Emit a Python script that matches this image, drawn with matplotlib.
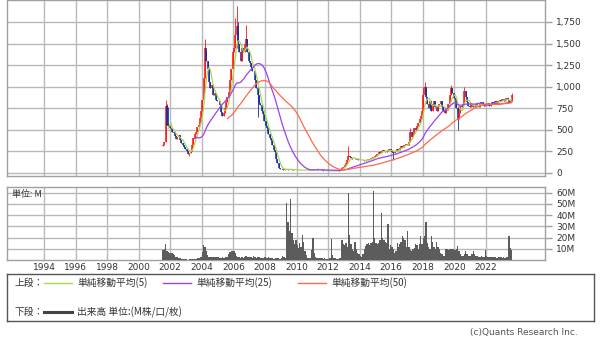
import numpy as np
import pandas as pd
import matplotlib
matplotlib.use("Agg")
import matplotlib.pyplot as plt
from matplotlib.ticker import FuncFormatter

# monthly candles, 2001-07 .. 2023-08
months = pd.period_range("2001-07", "2023-08", freq="M")

close = [
    # 2001 (Jul-Dec)
    330, 360, 780, 560, 540, 520,
    # 2002
    520, 480, 460, 430, 390, 420, 440, 380, 350, 330, 300, 280,
    # 2003
    250, 220, 230, 260, 330, 400, 450, 480, 530, 560, 640, 720,
    # 2004
    850, 1100, 1450, 1300, 1200, 1050, 980, 1020, 900, 930, 850, 830,
    # 2005
    840, 790, 710, 660, 700, 750, 820, 880, 940, 1080, 1200, 1400,
    # 2006
    1450, 1600, 1700, 1500, 1400, 1300, 1450, 1400, 1500, 1550, 1400, 1300,
    # 2007
    1280, 1230, 1180, 1180, 1080, 980, 900, 810, 790, 720, 680, 600,
    # 2008
    540, 520, 450, 400, 380, 330, 270, 240, 160, 110, 60, 50,
    # 2009
    45, 40, 35, 50, 45, 40, 38, 40, 42, 38, 35, 35,
    # 2010
    35, 33, 30, 32, 35, 38, 35, 32, 30, 30, 32, 35,
    # 2011
    40, 45, 50, 40, 38, 35, 33, 30, 28, 28, 27, 26,
    # 2012
    25, 27, 28, 26, 24, 22, 22, 25, 30, 45, 60, 75,
    # 2013
    90, 110, 150, 200, 180, 170, 165, 160, 170, 165, 155, 150,
    # 2014
    150, 145, 150, 140, 150, 155, 160, 165, 170, 175, 180, 200,
    # 2015
    210, 220, 240, 230, 250, 270, 260, 240, 250, 270, 280, 260,
    # 2016
    240, 230, 250, 260, 280, 270, 290, 310, 300, 320, 330, 340,
    # 2017
    330, 360, 470, 420, 450, 520, 500, 540, 580, 620, 660, 720,
    # 2018
    900, 1000, 880, 800, 750, 830, 720, 800, 830, 760, 720, 780,
    # 2019
    800, 830, 760, 720, 700, 750, 730, 800, 900, 980, 930, 870,
    # 2020
    860, 750, 620, 700, 780, 760, 800, 950, 880, 820, 780, 760,
    # 2021
    800, 790, 760, 780, 800, 790, 770, 800, 820, 790, 780, 800,
    # 2022
    790, 810, 780, 800, 820, 800, 830, 810, 800, 830, 850, 840,
    # 2023 (Jan-Aug)
    860, 830, 850, 870, 850, 820, 840, 900,
]

# wicks that stick out of the bodies
wick_high = {"2001-09": 846, "2001-10": 800, "2001-11": 770, "2004-03": 1551,
             "2004-04": 1420, "2006-02": 1800, "2006-03": 1935, "2006-04": 1750,
             "2006-10": 1720, "2013-04": 313, "2017-03": 520, "2018-01": 1000,
             "2018-02": 1060, "2019-10": 1020, "2020-03": 800, "2020-08": 1000,
             "2023-08": 930}
wick_low = {"2003-03": 200, "2006-03": 1450, "2007-07": 650, "2016-02": 150,
            "2020-03": 500}

volume = [
    # 2001 (Jul-Dec)
    9, 10, 14, 8, 7, 6.5,
    # 2002
    6.5, 6, 5, 4.5, 3, 2.5, 2, 1.5, 1, 0.8, 0.5, 0.5,
    # 2003
    0.5, 0.4, 0.5, 0.5, 0.6, 0.8, 1, 1.2, 1.5, 2, 1.8, 2.5,
    # 2004
    7.5, 13, 12, 8, 4.5, 3, 2.5, 3, 2.5, 3, 2.5, 2.5,
    # 2005
    2.5, 2, 2, 2.5, 2, 2, 2.5, 3, 5, 7.5, 8, 8,
    # 2006
    8, 6, 4, 3, 2.5, 2, 2.5, 2, 3, 4, 3, 2.5,
    # 2007
    3, 2.5, 2, 3.5, 2.5, 2, 3, 2.5, 2, 1.5, 2, 3,
    # 2008
    2.5, 2, 3, 2, 1.5, 1.5, 1, 1, 1.5, 2, 1.5, 1,
    # 2009
    2, 4, 3, 2, 51, 34, 26, 54, 24, 18, 14, 18,
    # 2010
    13, 11, 15, 12, 22, 16, 8, 4.5, 2, 1.5, 1.5, 9,
    # 2011
    20, 6, 3, 2, 2, 1.5, 1.5, 2, 1, 1.5, 1, 1,
    # 2012
    1, 2, 18.5, 4.5, 2, 1.5, 1, 1, 1.5, 2, 18, 14,
    # 2013
    13, 15, 12, 60, 22, 14, 10, 8, 16, 10, 6, 5,
    # 2014
    4, 3, 5, 10, 12.5, 14, 15, 13, 15, 16, 61, 20,
    # 2015
    15, 14, 15, 18, 42, 20, 18, 16, 15, 32, 10, 13,
    # 2016
    12, 10, 6, 8, 15, 12, 14, 16, 21.7, 20, 18, 12,
    # 2017
    26, 12, 9, 8, 10, 11, 14, 13, 10, 14, 21, 14,
    # 2018
    20, 21, 34, 15, 12, 10, 21.7, 16, 12, 10, 15.6, 12,
    # 2019
    10, 6.4, 5, 4, 4, 9.5, 9.5, 9, 9.5, 9.5, 10, 9.5,
    # 2020
    9, 10, 12.5, 8, 5, 4, 4, 5, 7.6, 5, 4, 3.5,
    # 2021
    4, 5, 7.6, 5, 4, 3.5, 3, 3, 4, 3, 3, 8.5,
    # 2022
    4, 3, 3, 2.5, 3, 2.5, 3, 2.5, 2, 2.5, 3, 2.5,
    # 2023 (Jan-Aug)
    2, 2.5, 2, 2.5, 3, 21, 11, 9,
]

price_ticks = [0, 250, 500, 750, 1000, 1250, 1500, 1750]
vol_ticks = [10, 20, 30, 40, 50, 60]
year_ticks = list(range(1994, 2023, 2))

# ---------------------------------------------------------------
x = np.array([p.year + (p.month - 0.5) / 12 for p in months])
c = np.array(close, dtype=float)
o = np.concatenate([[310.0], c[:-1]])
keys = [str(p) for p in months]
hi = np.array([wick_high.get(k, max(oo, cc)) for k, oo, cc in zip(keys, o, c)])
lo = np.array([wick_low.get(k, min(oo, cc)) for k, oo, cc in zip(keys, o, c)])
s = pd.Series(c)
ma5 = s.rolling(5).mean()
ma25 = s.rolling(25).mean()
ma50 = s.rolling(50).mean()

W, H = 600, 342
fig = plt.figure(figsize=(6, 3.42), dpi=100)
grid_c = "#b8b8b8"
spine_c = "#a0a0a0"
txt_c = "#333333"
jp = ["Noto Sans CJK JP", "DejaVu Sans"]


def px_axes(l, t, r, b):
    return fig.add_axes([l / W, 1 - b / H, (r - l) / W, (b - t) / H])


def style(ax):
    for sp in ax.spines.values():
        sp.set_color(spine_c)
        sp.set_linewidth(1)
    ax.yaxis.tick_right()
    ax.tick_params(axis="y", colors=spine_c, length=5, width=1, pad=3,
                   labelcolor=txt_c, labelsize=6.5)
    ax.set_xlim(1991.66, 2025.74)
    ax.set_xticks(year_ticks)
    ax.grid(True, color=grid_c, linewidth=1)
    ax.set_axisbelow(True)


# price panel
ax = px_axes(7, 0, 545, 176)
style(ax)
ax.set_ylim(-35, 2005)
ax.set_yticks(price_ticks)
ax.yaxis.set_major_formatter(FuncFormatter(lambda v, p: f"{v:,.0f}"))
ax.tick_params(axis="x", length=0, labelbottom=False)

up = c >= o
red, blue = "#ff1010", "#102c9c"
cols = np.where(up, red, blue)
ax.vlines(x, lo, hi, colors=cols, linewidth=0.6, zorder=3)
ax.vlines(x, np.minimum(o, c), np.maximum(o, c), colors=cols, linewidth=1.1, zorder=3)
ax.plot(x, ma5, color="#a8d850", linewidth=0.9, zorder=4)
ax.plot(x, ma25, color="#a040f0", linewidth=0.9, zorder=4)
ax.plot(x, ma50, color="#ff6a4a", linewidth=0.9, zorder=4)

# volume panel
av = px_axes(7, 187, 545, 260)
style(av)
av.set_ylim(0, 65)
av.set_yticks(vol_ticks)
av.yaxis.set_major_formatter(FuncFormatter(lambda v, p: f"{v:.0f}M"))
av.tick_params(axis="x", length=0, pad=2, labelsize=6.5, labelcolor=txt_c)
av.bar(x, volume, width=1 / 12, color="#5c5c5c", linewidth=0, zorder=3)
av.text(5 / 538, 0.9, "単位: M", transform=av.transAxes, fontsize=6.5,
        family=jp, color=txt_c, va="center", ha="left", zorder=5)

# legend box
al = px_axes(7, 274, 594, 321)
al.set_xlim(0, 587)
al.set_ylim(47, 0)
al.set_xticks([])
al.set_yticks([])
for sp in al.spines.values():
    sp.set_color("#555555")
    sp.set_linewidth(1)

row1, row2 = 8.5, 38
al.text(7, row1, "上段：", fontsize=7, family=jp, color=txt_c, va="center")
items = [(37, "#a8d850", "単純移動平均(5)"),
         (156, "#a040f0", "単純移動平均(25)"),
         (291, "#ff6a4a", "単純移動平均(50)")]
for x0, col, lab in items:
    al.plot([x0, x0 + 28], [row1, row1], color=col, linewidth=1)
    al.text(x0 + 33, row1, lab, fontsize=7, family=jp, color=txt_c, va="center")
al.text(7, row2, "下段：", fontsize=7, family=jp, color=txt_c, va="center")
al.plot([37, 65], [row2, row2], color="#444444", linewidth=2.2)
al.text(70, row2, "出来高 単位:(M株/口/枚)", fontsize=7, family=jp,
        color=txt_c, va="center")

fig.text(578 / W, 1 - 332 / H, "(c)Quants Research Inc.", fontsize=6.5,
         color="#555555", ha="right", va="center")

fig.savefig("out.png", dpi=100)
